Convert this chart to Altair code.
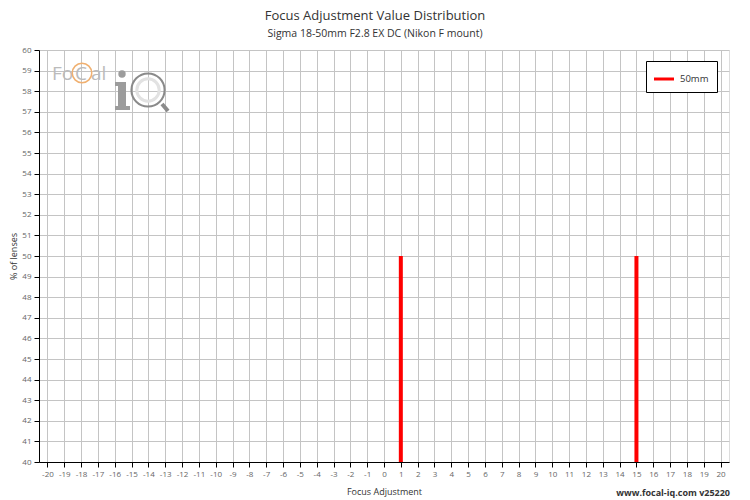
import altair as alt
import pandas as pd

focus_values = [1, 15]
percent_lenses = [50, 50]
series = ["50mm", "50mm"]

title_text = "Focus Adjustment Value Distribution"
subtitle_text = "Sigma 18-50mm F2.8 EX DC (Nikon F mount)"
footer_text = "www.focal-iq.com  v25220"

df = pd.DataFrame({"adj": focus_values, "pct": percent_lenses, "lens": series})

FONT = "Open Sans"
W, H = 690, 412

x_scale = alt.Scale(domain=[-20.5, 20.5], nice=False, zero=False, padding=0)
y_scale = alt.Scale(domain=[40, 60], nice=False, zero=False, padding=0)

common_axis = dict(titleFontSize=9, titleFontWeight="normal", titleColor="#333",
                   labelFontSize=8, labelColor="#666", tickColor="#000",
                   domainColor="#000", tickSize=5, gridColor="#c4c4c4",
                   labelPadding=3, labelExpr="'' + datum.value")

bars = alt.Chart(df).mark_bar(size=4, clip=True).encode(
    x=alt.X("adj:Q", scale=x_scale,
            axis=alt.Axis(values=list(range(-20, 21)), title="Focus Adjustment",
                          titlePadding=9, **common_axis)),
    y=alt.Y("pct:Q", scale=y_scale,
            axis=alt.Axis(values=list(range(40, 61)), title="% of lenses",
                          titlePadding=3, **common_axis)),
    y2=alt.Y2(datum=40),
    color=alt.Color("lens:N", scale=alt.Scale(range=["#ff0000"]),
                    legend=alt.Legend(title=None, orient="none", legendX=607, legendY=11,
                                      symbolType="M-1,-0.15L1,-0.15L1,0.15L-1,0.15Z",
                                      symbolSize=400, symbolStrokeWidth=0,
                                      strokeColor="#000", fillColor="white", padding=8,
                                      labelFontSize=9.5, labelColor="#333", labelFont=FONT,
                                      labelOffset=6, cornerRadius=0)),
)

def txt(text, x, y, size, color="#333", weight="normal", align="center", font=FONT):
    return alt.Chart(pd.DataFrame({"t": [text]})).mark_text(
        fontSize=size, color=color, fontWeight=weight, align=align, baseline="middle", font=font
    ).encode(x=alt.value(x), y=alt.value(y), text="t:N")

def box(x, x2, y, y2, color, opacity=1.0):
    return alt.Chart(pd.DataFrame({"a": [0]})).mark_rect(color=color, opacity=opacity).encode(
        x=alt.value(x), x2=alt.value(x2), y=alt.value(y), y2=alt.value(y2))

def ring(x, y, size, color, sw):
    return alt.Chart(pd.DataFrame({"a": [0]})).mark_point(
        shape="circle", filled=False, color=color, strokeWidth=sw, size=size, opacity=1
    ).encode(x=alt.value(x), y=alt.value(y))

shadow = box(610, 679, 14, 39, "#c8c8c8")

logo_parts = [
    txt("Fo", 13, 24, 19, color="#bbb", align="left"),
    txt("al", 52, 24, 19, color="#bbb", align="left"),
    txt("C", 36, 24, 19, color="#bbb", align="left"),
    ring(43, 23, 380, "#f0b070", 1.5),
    # "i"
    box(79, 87, 32, 60, "#9c9c9c"),
    box(76, 87, 32, 36, "#9c9c9c"),
    box(76, 91, 56, 60, "#9c9c9c"),
    alt.Chart(pd.DataFrame({"a": [0]})).mark_point(shape="circle", filled=True, color="#9c9c9c", size=55, opacity=1).encode(
        x=alt.value(83), y=alt.value(24)),
    # magnifier
    ring(109, 40, 500, "#e2e2e2", 3),
    ring(109, 40, 1100, "#8a8a8a", 2),
    alt.Chart(pd.DataFrame({"a": [0]})).mark_rule(color="#8a8a8a", strokeWidth=4).encode(
        x=alt.value(123), x2=alt.value(129), y=alt.value(54), y2=alt.value(61)),
]

title = txt(title_text, 336, -34, 13, color="#333")
subtitle = txt(subtitle_text, 336, -16, 10.5, color="#333")
footer = txt(footer_text, 691, 443, 9, color="#333", weight="bold", align="right")

chart = alt.layer(
    *logo_parts, bars, shadow, title, subtitle, footer
).properties(
    width=W, height=H,
    autosize=alt.AutoSizeParams(type="none"),
    padding={"left": 31, "top": 42, "right": 13, "bottom": 38},
).configure_view(stroke=None).configure(font=FONT)

chart.save("out.html", embed_options={"renderer": "svg", "actions": False})
